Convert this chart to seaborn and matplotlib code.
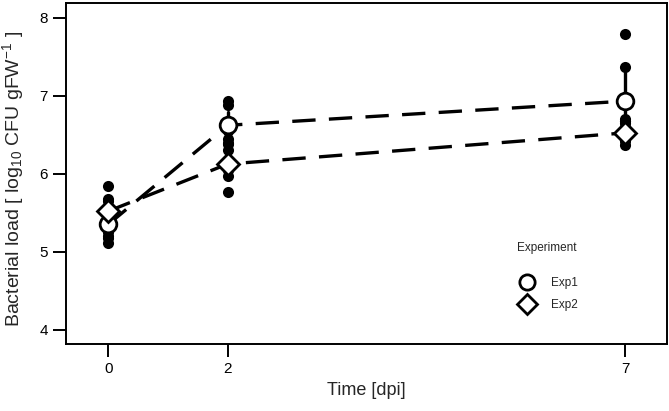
import pandas as pd
import numpy as np
import matplotlib
matplotlib.use("Agg")
import matplotlib.pyplot as plt
from matplotlib.lines import Line2D
import seaborn as sns

# x position of each sampling day and the label shown under it
time_pos = [0.5, 2, 7]
time_labels = ["0", "2", "7"]

experiments = ["Exp1", "Exp2"]

# replicate bacterial loads (log10 CFU/gFW)
exp1_d0 = [5.12, 5.18, 5.25, 5.38, 5.50, 5.68]
exp1_d2 = [6.30, 6.45, 6.55, 6.62, 6.88, 6.93]
exp1_d7 = [6.45, 6.60, 6.68, 6.70, 7.37, 7.79]
exp2_d0 = [5.20, 5.40, 5.48, 5.55, 5.65, 5.85]
exp2_d2 = [5.77, 5.97, 6.05, 6.18, 6.38, 6.40]
exp2_d7 = [6.37, 6.42, 6.48, 6.55, 6.65, 6.68]

# build long table
rows = []
for exp, series in zip(experiments, [[exp1_d0, exp1_d2, exp1_d7], [exp2_d0, exp2_d2, exp2_d7]]):
    for t, vals in zip(time_pos, series):
        for v in vals:
            rows.append({"time": t, "load": v, "Experiment": exp})
df = pd.DataFrame(rows)

sns.set_style("ticks")
plt.rcParams['font.family'] = ['Liberation Sans', 'DejaVu Sans']
plt.rcParams['mathtext.fontset'] = 'custom'
plt.rcParams['mathtext.rm'] = 'Liberation Sans'
plt.rcParams['mathtext.it'] = 'Liberation Sans:italic'

fig = plt.figure(figsize=(6.69, 4.11), dpi=100)
ax = fig.add_axes([0.0987, 0.163, 0.898, 0.830])

# raw replicates
sns.stripplot(data=df, x="time", y="load", native_scale=True, jitter=False,
              color="black", size=8, ax=ax, zorder=1)

# means with bootstrap CI
sns.pointplot(data=df, x="time", y="load", hue="Experiment", native_scale=True,
              palette=["black", "black"], markers=["o", "D"], linestyles=["--", "--"],
              errorbar=("ci", 95), seed=3, err_kws={"linewidth": 2.4},
              linewidth=2.4, markersize=12, ax=ax, legend=False)

for ln in ax.lines:
    if ln.get_marker() in ("o", "D"):
        ln.set_markerfacecolor("white")
        ln.set_markeredgecolor("black")
        ln.set_markeredgewidth(2.0)
        ln.set_dashes([7, 4])
        ln.set_zorder(5)
        if ln.get_marker() == "D":
            ln.set_markersize(11)
    else:
        ln.set_zorder(4)

ax.set_xlim(-0.03, 7.52)
ax.set_ylim(3.82, 8.19)
ax.set_xticks(time_pos)
ax.set_xticklabels(time_labels)
ax.set_yticks([4, 5, 6, 7, 8])

ax.set_xlabel("Time [dpi]", fontsize=13)
ax.set_ylabel("Bacterial load [ log$_{10}$ CFU gFW$^{-1}$ ]", fontsize=14)
ax.yaxis.set_label_coords(-0.066, 0.485)

for s in ax.spines.values():
    s.set_visible(True)
    s.set_linewidth(1.4)
    s.set_color("black")
ax.tick_params(axis="both", length=9.5, width=1.4, labelsize=11, pad=3.5, colors="black")

handles = [Line2D([], [], marker=m, linestyle="none", markerfacecolor="white",
                  markeredgecolor="black", markeredgewidth=2.0, markersize=ms)
           for m, ms in zip(["o", "D"], [11, 10])]
ax.legend(handles, experiments, title="Experiment\n", frameon=False, fontsize=8.5,
          title_fontsize=8.5, loc="upper left", bbox_to_anchor=(0.73, 0.33),
          labelspacing=0.8, handletextpad=1.0)

fig.savefig("out.png", dpi=100)
